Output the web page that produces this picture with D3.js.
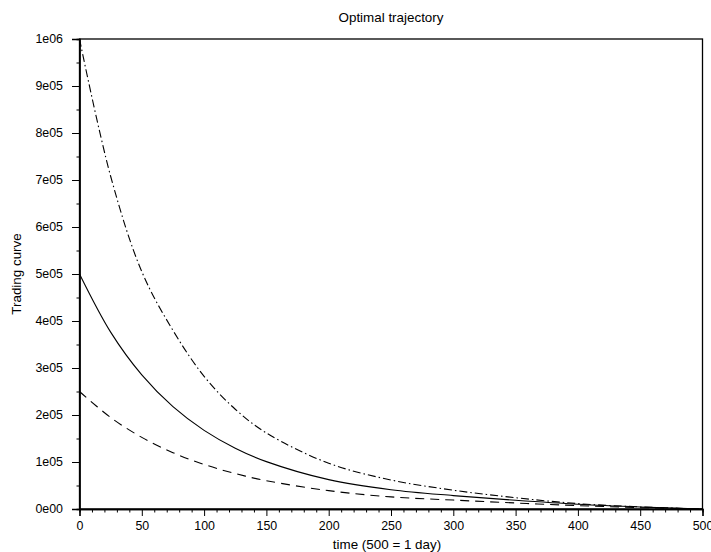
<!DOCTYPE html>
<html>
<head>
<meta charset="utf-8">
<script src="https://cdn.jsdelivr.net/npm/d3@7"></script>
<style>
  html, body { margin: 0; padding: 0; background: #fff; }
  svg { display: block; }
  text { font-family: "Liberation Sans", Arial, sans-serif; fill: #000; }
</style>
</head>
<body>
<svg id="chart" width="711" height="552"></svg>
<script>
// ---- data ----
const title = "Optimal trajectory";
const xLabel = "time (500 = 1 day)";
const yLabel = "Trading curve";
const times = [0, 25, 50, 75, 100, 125, 150, 200, 250, 300, 350, 400, 450, 500];
const seriesDashDot = [1000000, 708000, 505000, 380000, 282300, 212300, 161700, 97400, 61700, 40000, 24000, 11500, 4500, 0];
const seriesSolid   = [500000, 376300, 285300, 217700, 167300, 129400, 100800, 62500, 41000, 28500, 18500, 10000, 4200, 0];
const seriesDashed  = [250000, 194700, 152400, 119900, 94800, 75400, 60200, 39000, 25750, 19000, 12800, 7200, 3000, 0];
const xTicks = [0, 50, 100, 150, 200, 250, 300, 350, 400, 450, 500];
const yTicks = [0, 100000, 200000, 300000, 400000, 500000, 600000, 700000, 800000, 900000, 1000000];
const yTickLabels = ["0e00", "1e05", "2e05", "3e05", "4e05", "5e05", "6e05", "7e05", "8e05", "9e05", "1e06"];

// ---- layout ----
const svg = d3.select("#chart");
const padL = 79.5, padR = 702.5, padT = 39, padB = 509;
const x = d3.scaleLinear().domain([0, 500]).range([padL, padR]);
const y = d3.scaleLinear().domain([0, 1000000]).range([padB, padT]);
const tickFont = 12.4, labelFont = 13.4;

// frame
svg.append("rect")
  .attr("x", padL).attr("y", padT)
  .attr("width", padR - padL).attr("height", padB - padT)
  .attr("fill", "none").attr("stroke", "#000").attr("stroke-width", 1.3);

// x axis
const xMinor = d3.range(0, 501, 10).filter(v => v % 50 !== 0);
const gx = svg.append("g").attr("transform", `translate(0,${padB})`);
gx.call(d3.axisBottom(x).tickValues(xMinor).tickSize(3.5).tickFormat(""));
gx.append("g").call(d3.axisBottom(x).tickValues(xTicks).tickSize(7).tickPadding(5).tickFormat(d3.format("d")));
gx.selectAll(".domain").attr("stroke-width", 1.3);
gx.selectAll("text").attr("font-size", tickFont).attr("font-family", "Liberation Sans, Arial, sans-serif").attr("fill", "#000");
gx.selectAll("line").attr("stroke", "#000");

// y axis
const yMinor = d3.range(50000, 1000000, 100000);
const gy = svg.append("g").attr("transform", `translate(${padL},0)`);
gy.call(d3.axisLeft(y).tickValues(yMinor).tickSize(3).tickFormat(""));
gy.append("g").call(d3.axisLeft(y).tickValues(yTicks).tickSize(7.5)
  .tickFormat((d, i) => yTickLabels[i]).tickPadding(9));
gy.selectAll(".domain").attr("stroke-width", 1.3);
gy.selectAll("text").attr("font-size", tickFont).attr("font-family", "Liberation Sans, Arial, sans-serif").attr("fill", "#000");
gy.selectAll("line").attr("stroke", "#000");

// lines
const line = d3.line()
  .x(d => x(d[0])).y(d => y(d[1]))
  .curve(d3.curveCatmullRom.alpha(0.5));
const plot = svg.append("g");
const series = [
  { vals: seriesDashDot, dash: "8,3,1.5,3" },
  { vals: seriesSolid, dash: null },
  { vals: seriesDashed, dash: "9,6" }
];
series.forEach(s => {
  plot.append("path")
    .datum(times.map((t, i) => [t, s.vals[i]]))
    .attr("d", line)
    .attr("fill", "none")
    .attr("stroke", "#000")
    .attr("stroke-width", 1.1)
    .attr("stroke-dasharray", s.dash);
});

// labels
svg.append("text").attr("x", (padL + padR) / 2).attr("y", 22)
  .attr("text-anchor", "middle").attr("font-size", labelFont).text(title);
svg.append("text").attr("x", (padL + padR) / 2 - 4).attr("y", 549)
  .attr("text-anchor", "middle").attr("font-size", labelFont).text(xLabel);
svg.append("text")
  .attr("transform", `translate(21,${(padT + padB) / 2}) rotate(-90)`)
  .attr("text-anchor", "middle").attr("font-size", labelFont).text(yLabel);
</script>
</body>
</html>
